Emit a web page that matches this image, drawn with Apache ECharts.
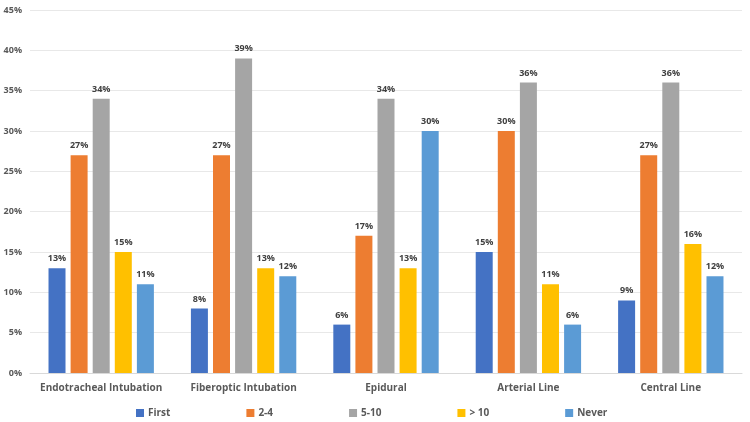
<!DOCTYPE html>
<html><head><meta charset="utf-8">
<script src="https://cdn.jsdelivr.net/npm/echarts@6/dist/echarts.min.js"></script>
<style>html,body{margin:0;padding:0;background:#fff}#c{width:750px;height:422px}</style>
</head><body><div id="c"></div>
<script>
const categories = ['Endotracheal Intubation','Fiberoptic Intubation','Epidural','Arterial Line','Central Line'];
const seriesNames = ['First','2-4','5-10','> 10','Never'];
const first = [13, 8, 6, 15, 9];
const twoToFour = [27, 27, 17, 30, 27];
const fiveToTen = [34, 39, 34, 36, 36];
const overTen = [15, 13, 13, 11, 16];
const never = [11, 12, 30, 6, 12];
const colors = ['#4472C4','#ED7D31','#A5A5A5','#FFC000','#5B9BD5'];
const allData = [first, twoToFour, fiveToTen, overTen, never];
const FONT = '"Open Sans", "Liberation Sans", sans-serif';

const chart = echarts.init(document.getElementById('c'));
chart.setOption({
  animation: false,
  textStyle: {fontFamily: FONT},
  grid: {left: 30, right: 8, top: 10, bottom: 49, containLabel: false},
  legend: {
    data: seriesNames, top: 403, left: 131, itemWidth: 8, itemHeight: 8, itemGap: 76,
    icon: 'rect', textStyle: {fontFamily: FONT, fontSize: 10, fontWeight: 'bold', color: '#595959', padding: [0,0,0,-1]}
  },
  xAxis: {
    type: 'category', data: categories,
    axisLine: {lineStyle: {color: '#D9D9D9'}}, axisTick: {show: false},
    axisLabel: {interval: 0, fontFamily: FONT, fontSize: 10, fontWeight: 'bold', color: '#595959', margin: 10}
  },
  yAxis: {
    type: 'value', min: 0, max: 45, interval: 5,
    axisLabel: {formatter: '{value}%', fontFamily: FONT, fontSize: 9, fontWeight: 'bold', color: '#595959', margin: 8},
    splitLine: {lineStyle: {color: '#E8E8E8'}},
    axisLine: {show: false}, axisTick: {show: false}
  },
  series: seriesNames.map((n, i) => ({
    name: n, type: 'bar', data: allData[i],
    barGap: '30%', barCategoryGap: '26%',
    itemStyle: {color: colors[i]},
    label: {show: true, position: 'top', formatter: '{c}%', fontFamily: FONT, fontSize: 9, fontWeight: 'bold', color: '#404040', distance: 5}
  }))
});
</script></body></html>
